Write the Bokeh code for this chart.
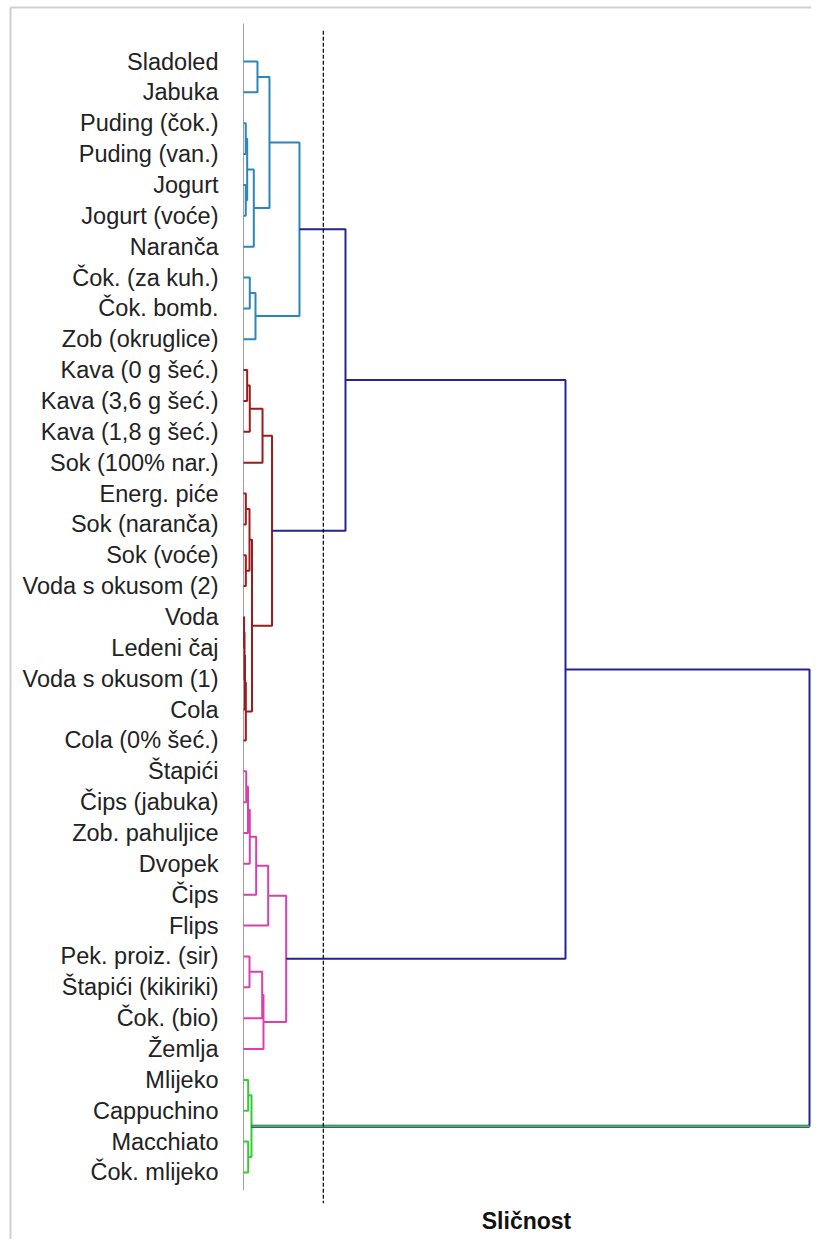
from bokeh.plotting import figure
from bokeh.models import Range1d
from bokeh.core.properties import value
from bokeh.embed import file_html
from bokeh.resources import INLINE

# ---------------- data ----------------
labels = [
    "Sladoled", "Jabuka", "Puding (čok.)", "Puding (van.)", "Jogurt",
    "Jogurt (voće)", "Naranča", "Čok. (za kuh.)", "Čok. bomb.", "Zob (okruglice)",
    "Kava (0 g šeć.)", "Kava (3,6 g šeć.)", "Kava (1,8 g šeć.)", "Sok (100% nar.)",
    "Energ. piće", "Sok (naranča)", "Sok (voće)", "Voda s okusom (2)", "Voda",
    "Ledeni čaj", "Voda s okusom (1)", "Cola", "Cola (0% šeć.)",
    "Štapići", "Čips (jabuka)", "Zob. pahuljice", "Dvopek", "Čips", "Flips",
    "Pek. proiz. (sir)", "Štapići (kikiriki)", "Čok. (bio)", "Žemlja",
    "Mlijeko", "Cappuchino", "Macchiato", "Čok. mlijeko",
]
leaf_cluster = [0] * 10 + [1] * 13 + [2] * 10 + [3] * 4
cluster_colors = ["#2b86b9", "#9b1c1c", "#d940ae", "#33cc33"]
link_color = "#25258f"

# linkage: ids < 37 are leaves, id 37+k is merge k
merge_left = [0, 2, 4, 38, 40, 37, 7, 43, 42,
              10, 46, 47, 14, 16, 49, 18, 52, 53, 54, 51, 48, 45,
              23, 59, 60, 61, 62, 29, 64, 65, 63, 58,
              33, 35, 69, 68]
merge_right = [1, 3, 5, 39, 6, 41, 8, 9, 44,
               11, 12, 13, 15, 17, 50, 19, 20, 21, 22, 55, 56, 57,
               24, 25, 26, 27, 28, 30, 31, 32, 66, 67,
               34, 36, 70, 71]
merge_height = [2.47, 0.40, 0.40, 0.65, 1.82, 4.59, 1.11, 2.12, 9.89,
                0.65, 1.11, 3.36, 0.41, 0.41, 1.06, 0.10, 0.18, 0.27, 0.41, 1.50, 5.04, 18.02,
                0.48, 0.80, 1.11, 2.24, 4.36, 1.06, 3.30, 3.53, 7.54, 56.89,
                0.83, 0.83, 1.41, 100.0]
cut_height = 14.1
axis_title = "Sličnost"

# ---------------- layout ----------------
W, H = 811, 1239
zero_px, unit_px = 243.0, 5.66        # x of distance 0, px per distance unit
leaf0_px, row_px = 61.0, 30.86        # y of first leaf, px per leaf

x_start = -zero_px / unit_px
x_end = (W - zero_px) / unit_px
y_top = -leaf0_px / row_px
y_bottom = (H - leaf0_px) / row_px

p = figure(width=W, height=H, output_backend="svg", toolbar_location=None,
           x_range=Range1d(x_start, x_end), y_range=Range1d(y_bottom, y_top),
           x_axis_type=None, y_axis_type=None, min_border=0,
           background_fill_color="white", border_fill_color="white")
p.grid.visible = False
p.outline_line_color = None

n = len(labels)
xs = [0.0] * n
ys = [float(i) for i in range(n)]
cols = [cluster_colors[c] for c in leaf_cluster]

paths_x, paths_y, path_cols = [], [], []
for a, b, h in zip(merge_left, merge_right, merge_height):
    ca, cb = cols[a], cols[b]
    c = ca if ca == cb else link_color
    paths_x.append([xs[a], h, h, xs[b]])
    paths_y.append([ys[a], ys[a], ys[b], ys[b]])
    path_cols.append(c)
    xs.append(h)
    ys.append((ys[a] + ys[b]) / 2.0)
    cols.append(c)

# frame lines (left and top)
bx = x_start + 10.0 / unit_px
by = y_top + 7.0 / row_px
p.segment(x0=[bx, bx], y0=[y_bottom, by], x1=[bx, x_end], y1=[by, by],
          line_color="#d0d0d0", line_width=2)

# zero axis line
p.segment(x0=[0], y0=[-1.23], x1=[0], y1=[n - 1 + 0.58], line_color="#a0a0a0", line_width=1)

# dendrogram links
cluster_idx = [i for i, c in enumerate(path_cols) if c != link_color]
link_idx = [i for i, c in enumerate(path_cols) if c == link_color]
p.multi_line(xs=[paths_x[i] for i in cluster_idx], ys=[paths_y[i] for i in cluster_idx],
             line_color=[path_cols[i] for i in cluster_idx], line_width=2)
p.multi_line(xs=[paths_x[i] for i in link_idx], ys=[paths_y[i] for i in link_idx],
             line_color=link_color, line_width=2)

# root link: coloured child drawn over the joining line
root = len(merge_height) - 1
for child in (merge_left[root], merge_right[root]):
    if cols[child] != link_color:
        p.line(x=[xs[child], merge_height[root]], y=[ys[child], ys[child]],
               line_color=link_color, line_width=3)
        p.line(x=[xs[child], merge_height[root]], y=[ys[child], ys[child]],
               line_color=cols[child], line_width=1.7)

# cut line
p.segment(x0=[cut_height], y0=[-1.0], x1=[cut_height], y1=[n], line_color="black",
          line_width=1.2, line_dash="4 2")

# leaf labels
p.text(x=[0.0] * n, y=list(range(n)), text=labels, x_offset=-25,
       text_align="right", text_baseline="middle", text_font=value("Liberation Sans"),
       text_font_size="23.5px", text_color="#222222")

# axis title
p.text(x=[merge_height[root] / 2.0], y=[n + 0.56], text=[axis_title],
       text_align="center", text_baseline="middle", text_font=value("Liberation Sans"),
       text_font_size="23px", text_font_style="bold", text_color="#111111")

open("out.html", "w").write(file_html(p, INLINE))
